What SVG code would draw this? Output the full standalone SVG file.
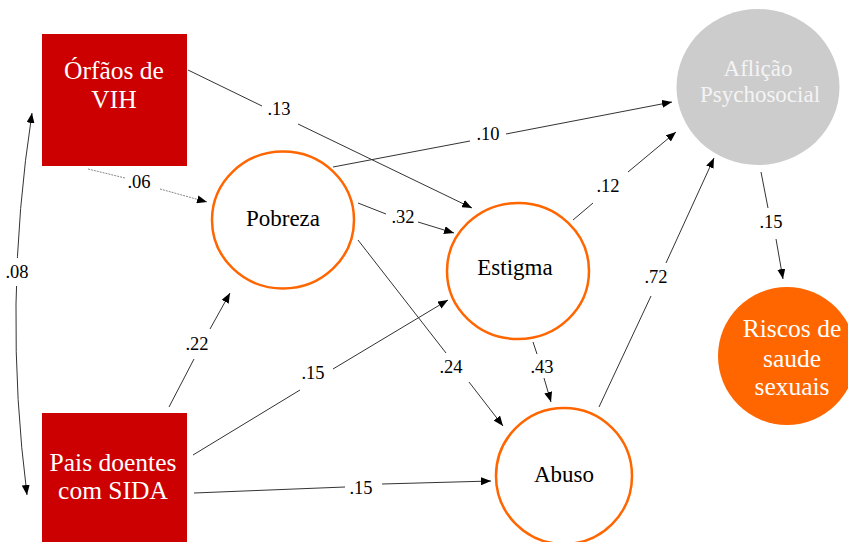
<svg xmlns="http://www.w3.org/2000/svg" width="848" height="542" viewBox="0 0 848 542" font-family="'Liberation Serif', 'Times New Roman', serif">
<style>
.box{fill:#cc0000}
.ring{fill:#ffffff;stroke:#ff6600;stroke-width:2.5}
.nt{font-size:23px;text-anchor:middle}
.big{font-size:25.5px}
.wt{fill:#ffffff}
.bt{fill:#000000}
.lt{font-size:18.5px;text-anchor:middle;fill:#000}
.e{fill:none;stroke:#333333;stroke-width:1}
.d{fill:none;stroke:#888888;stroke-width:1;stroke-dasharray:2 1}
.a{marker-end:url(#ah)}
</style>
<defs>
<marker id="ah" viewBox="0 0 10 8" refX="10" refY="4" markerWidth="10" markerHeight="8" markerUnits="userSpaceOnUse" orient="auto-start-reverse">
<path d="M0,0 L10,4 L0,8 z" fill="#000"/>
</marker>
</defs>
<rect width="848" height="542" fill="#ffffff"/>

<g id="connectors">
<path class="e" d="M32,113 Q2.5,304 27,495" marker-start="url(#ah)" marker-end="url(#ah)"/>
<rect x="4" y="258" width="26" height="28" fill="#ffffff"/>
<text class="lt" x="17" y="278">.08</text>
<path class="e" d="M188,70 L262,106"/>
<path class="e a" d="M298,124 L472,208"/>
<text class="lt" x="279" y="115">.13</text>
<path class="d" d="M88,169 L125,178"/>
<path class="d a" d="M160,189 L207,202"/>
<text class="lt" x="139" y="188">.06</text>
<path class="e" d="M333,167 L470,141"/>
<path class="e a" d="M506,134 L672,102"/>
<text class="lt" x="488" y="140">.10</text>
<path class="e" d="M358,203 L386,214"/>
<path class="e a" d="M418,222 L454,233"/>
<text class="lt" x="403" y="223">.32</text>
<path class="e" d="M358,240 L446,353"/>
<path class="e a" d="M469,382 L503,426"/>
<text class="lt" x="451" y="373">.24</text>
<path class="e" d="M573,220 L593,203"/>
<path class="e a" d="M628,172 L676,132"/>
<text class="lt" x="608" y="192">.12</text>
<path class="e" d="M533,342 L537,354"/>
<path class="e a" d="M544,378 L551,402"/>
<text class="lt" x="542" y="373">.43</text>
<path class="e" d="M599,407 L651,296"/>
<path class="e a" d="M666,263 L714,158"/>
<text class="lt" x="656" y="283">.72</text>
<path class="e" d="M761,172 L768,208"/>
<path class="e a" d="M776,239 L783,279"/>
<text class="lt" x="771" y="228">.15</text>
<path class="e" d="M169,407 L194,359"/>
<path class="e a" d="M210,329 L230,293"/>
<text class="lt" x="197" y="350">.22</text>
<path class="e" d="M193,455 L300,390"/>
<path class="e a" d="M333,369 L448,300"/>
<text class="lt" x="313" y="379">.15</text>
<path class="e" d="M194,493 L345,487"/>
<path class="e a" d="M382,484 L491,481"/>
<text class="lt" x="361" y="494">.15</text>
</g>

<g id="orfaos">
<rect class="box" x="42" y="34" width="145" height="132"/>
<text class="nt big wt" x="114" y="79">Órfãos de</text>
<text class="nt big wt" x="114" y="108">VIH</text>
</g>
<g id="pais">
<rect class="box" x="42" y="413" width="145" height="135"/>
<text class="nt big wt" x="113" y="471">Pais doentes</text>
<text class="nt big wt" x="113" y="499">com SIDA</text>
</g>
<g id="pobreza">
<ellipse class="ring" cx="283" cy="220" rx="71" ry="68.5"/>
<text class="nt bt" x="283" y="226">Pobreza</text>
</g>
<g id="estigma">
<ellipse class="ring" cx="518" cy="271" rx="71" ry="68"/>
<text class="nt bt" x="515" y="275">Estigma</text>
</g>
<g id="abuso">
<ellipse class="ring" cx="564" cy="476" rx="68" ry="68"/>
<text class="nt bt" x="564" y="482">Abuso</text>
</g>
<g id="aflicao">
<ellipse cx="758" cy="87" rx="81.5" ry="78" fill="#cccccc"/>
<text class="nt" x="758" y="76" fill="#f4f4f4">Aflição</text>
<text class="nt" x="760" y="102" fill="#f4f4f4">Psychosocial</text>
</g>
<g id="riscos">
<circle cx="787" cy="356" r="69" fill="#ff6600"/>
<text class="nt big wt" x="792" y="337">Riscos de</text>
<text class="nt big wt" x="792" y="367">saude</text>
<text class="nt big wt" x="792" y="395">sexuais</text>
</g>
</svg>
